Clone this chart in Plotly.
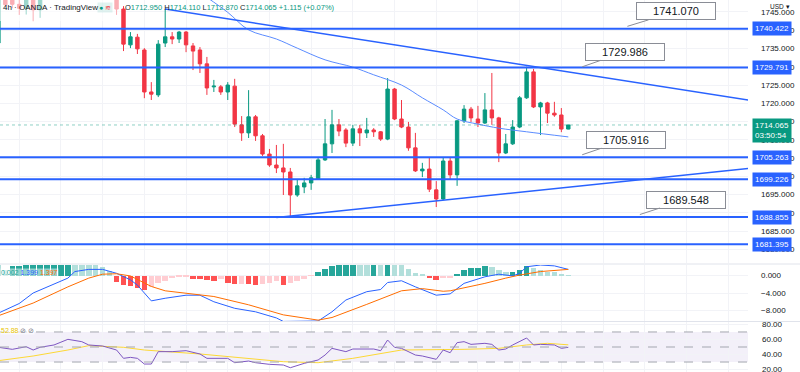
import plotly.graph_objects as go

PLOT_W = 748.0
PLOT_H = 372.0

# ---------------- data ----------------
idx = list(range(83))
opens = [1736.5, 1749.8, 1748.6, 1747.1, 1746.0, 1749.0, 1745.6, 1750.8, 1753.1, 1756.2,
         1754.3, 1759.1, 1758.0, 1760.6, 1755.8, 1753.0, 1751.0, 1750.0, 1745.8, 1736.0,
         1738.1, 1734.6, 1723.1, 1722.3, 1736.5, 1738.2, 1737.6, 1739.5, 1735.7, 1734.6,
         1730.8, 1724.5, 1724.5, 1723.1, 1724.7, 1714.1, 1711.9, 1716.3, 1711.1, 1706.1,
         1703.1, 1702.3, 1701.2, 1694.9, 1697.1, 1698.2, 1699.3, 1704.5, 1708.9, 1714.1,
         1712.7, 1709.1, 1713.0, 1711.9, 1712.7, 1712.2, 1710.2, 1723.9, 1715.7, 1713.5,
         1707.8, 1701.5, 1702.0, 1696.3, 1693.8, 1704.2, 1700.4, 1715.2, 1718.4, 1715.7,
         1714.6, 1718.2, 1716.0, 1706.4, 1708.9, 1713.5, 1721.5, 1728.6, 1719.0, 1720.1,
         1717.3, 1716.8, 1712.95]
highs = [1751.0, 1751.2, 1749.6, 1748.9, 1749.8, 1750.2, 1751.5, 1754.0, 1757.0, 1757.8,
         1760.0, 1762.0, 1761.5, 1761.2, 1757.6, 1754.6, 1752.8, 1751.4, 1746.6, 1739.5,
         1739.0, 1735.1, 1725.8, 1737.3, 1745.8, 1739.5, 1739.8, 1739.8, 1736.5, 1735.4,
         1732.7, 1726.4, 1725.0, 1725.8, 1726.7, 1716.5, 1723.6, 1716.8, 1711.6, 1707.5,
         1708.6, 1708.9, 1702.3, 1699.0, 1699.6, 1700.4, 1705.0, 1715.7, 1718.2, 1715.7,
         1713.2, 1714.1, 1714.1, 1716.0, 1713.2, 1712.4, 1726.9, 1724.2, 1720.9, 1714.9,
         1711.9, 1703.7, 1705.3, 1698.7, 1705.3, 1705.3, 1715.4, 1719.5, 1719.0, 1719.3,
         1722.8, 1728.3, 1716.3, 1711.6, 1715.4, 1722.0, 1730.0, 1729.4, 1720.4, 1720.4,
         1720.4, 1718.7, 1714.11]
lows = [1735.5, 1746.3, 1746.0, 1744.2, 1744.3, 1742.5, 1743.4, 1749.6, 1752.0, 1753.4,
        1753.8, 1757.2, 1756.4, 1755.0, 1752.1, 1750.2, 1749.0, 1744.2, 1734.3, 1735.1,
        1733.5, 1721.4, 1720.9, 1721.7, 1735.4, 1736.2, 1736.5, 1734.0, 1729.1, 1728.3,
        1722.3, 1723.1, 1722.3, 1720.9, 1713.5, 1709.7, 1710.5, 1709.7, 1705.6, 1702.6,
        1700.9, 1694.9, 1688.9, 1694.4, 1695.4, 1696.3, 1699.0, 1704.2, 1706.4, 1711.0,
        1708.0, 1708.3, 1708.3, 1710.5, 1710.8, 1709.7, 1709.9, 1715.4, 1713.2, 1707.0,
        1701.2, 1699.8, 1695.7, 1691.6, 1693.5, 1699.0, 1697.4, 1714.6, 1714.9, 1713.5,
        1714.3, 1714.1, 1703.9, 1706.1, 1708.6, 1713.2, 1721.2, 1718.7, 1711.3, 1714.6,
        1716.3, 1712.1, 1712.87]
closes = [1749.8, 1747.0, 1747.1, 1746.0, 1749.0, 1745.6, 1750.8, 1753.1, 1756.2, 1754.3,
          1759.1, 1758.0, 1760.6, 1755.8, 1753.0, 1751.0, 1750.0, 1745.8, 1736.2, 1738.2,
          1734.9, 1723.1, 1722.5, 1736.2, 1738.2, 1737.6, 1739.5, 1736.0, 1734.3, 1730.8,
          1724.2, 1724.7, 1723.1, 1725.0, 1714.3, 1711.9, 1716.3, 1711.1, 1706.1, 1703.1,
          1702.3, 1701.2, 1694.9, 1697.4, 1698.2, 1699.6, 1704.5, 1708.9, 1714.1, 1712.4,
          1709.1, 1713.0, 1711.9, 1712.7, 1712.2, 1710.2, 1723.9, 1715.7, 1713.5, 1707.8,
          1701.5, 1702.0, 1696.5, 1693.8, 1704.2, 1700.4, 1715.2, 1718.4, 1716.0, 1714.6,
          1718.2, 1716.0, 1706.4, 1708.9, 1713.5, 1721.5, 1728.6, 1719.0, 1720.1, 1717.3,
          1716.8, 1712.95, 1714.065]

ma_idx = [30, 33, 36, 40, 43, 47, 51, 54, 58, 61, 64, 66, 69, 72, 76, 82]
ma_val = [1749.0, 1744.9, 1740.1, 1737.6, 1735.1, 1731.9, 1729.9, 1727.8, 1725.0, 1721.5,
          1718.2, 1715.7, 1714.3, 1713.2, 1712.2, 1710.8]

hist = [2.4, 1.3, 2.1, 2.2, 2.3, 2.5, 2.7, 2.9, 3.0, 3.1, 3.2, 3.0, 2.8, 2.6, 2.3, 1.9, 1.0,
        -1.4, -2.2, -2.3, -2.9, -3.3, -2.6, -1.8, -1.2, -0.5, -0.35, -0.3, -0.7, -0.9, -1.1,
        -1.3, -0.9, -1.6, -1.9, -1.85, -1.95, -2.1, -2.0, -1.7, -1.3, -2.1, -1.7, -1.2, -0.7,
        -0.1, 0.8, 1.6, 2.2, 2.6, 2.8, 3.0, 2.8, 2.6, 2.9, 2.7, 3.0, 2.8, 2.5, 1.4, 0.65, 0.3,
        -0.5, -1.1, -0.6, -0.5, 0.4, 1.3, 1.7, 1.8, 2.1, 1.9, 1.2, 0.8, 0.85, 1.2, 2.1, 1.7,
        1.2, 0.9, 0.7, 0.3, 0.02]
macd_idx = [0, 3, 5, 7, 10, 11, 13, 15, 17, 19, 20, 22, 24, 27, 29, 31, 34, 37, 40, 41, 46,
            48, 50, 53, 55, 56, 58, 60, 63, 65, 67, 70, 72, 74, 75, 76, 78, 80, 82]
macd_val = [-8.6, -6.4, -4.0, -2.6, -0.6, 0.9, 1.4, 1.4, 0.5, -1.0, -2.2, -5.8, -5.2, -4.5,
            -4.5, -6.0, -7.5, -8.3, -9.7, -10.5, -10.4, -8.3, -5.6, -3.7, -3.2, -1.6, -1.2,
            -2.6, -4.5, -4.2, -1.8, -0.3, 0.3, -0.1, 0.5, 2.0, 2.4, 2.2, 1.399]
sig_idx = [0, 5, 10, 13, 15, 17, 19, 22, 24, 27, 31, 36, 41, 46, 48, 53, 58, 61, 64, 65, 70,
           73, 75, 78, 82]
sig_val = [-9.2, -6.3, -2.6, -0.6, 0.3, 0.4, -0.1, -2.5, -3.5, -4.1, -4.8, -6.7, -9.0, -10.2,
           -9.6, -6.6, -3.5, -3.0, -3.6, -3.5, -1.8, -0.6, 0.1, 0.9, 1.397]

rsi_idx = [0, 2, 4, 5, 6, 8, 10, 12, 13, 15, 17, 18, 19, 20, 21, 22, 23, 25, 27, 29, 30, 33,
           34, 36, 37, 39, 41, 42, 44, 46, 47, 48, 50, 51, 54, 55, 56, 57, 58, 60, 61, 63, 64,
           65, 66, 67, 68, 70, 71, 72, 73, 74, 76, 77, 78, 79, 80, 81, 82]
rsi_val = [49.6, 46.9, 50.4, 46.0, 49.6, 52.7, 60.2, 57.1, 52.7, 51.3, 46.0, 34.9, 36.2, 34.9,
           27.3, 27.3, 43.8, 43.8, 45.1, 40.7, 34.9, 34.9, 29.1, 31.3, 29.1, 26.9, 26.0, 22.4,
           28.2, 32.7, 39.3, 48.2, 43.8, 47.3, 47.3, 45.1, 59.3, 49.6, 48.2, 39.3, 38.0, 33.6,
           46.0, 42.4, 55.8, 57.1, 53.5, 54.9, 53.5, 46.0, 47.3, 52.7, 62.0, 52.7, 53.5, 52.7,
           52.7, 48.2, 49.6]
rsima_idx = [0, 5, 10, 13, 18, 21, 29, 34, 41, 46, 51, 58, 63, 67, 72, 76, 79, 82]
rsima_val = [31.8, 38.0, 46.0, 51.8, 49.6, 46.0, 40.7, 36.2, 30.4, 29.1, 34.9, 46.0, 46.0, 46.9,
             48.2, 52.7, 54.9, 52.88]

h_levels = [1740.422, 1729.791, 1705.263, 1699.226, 1688.855, 1681.395]
down_idx = [24, 107.9]
down_px = [1745.8, 1720.9]
up_idx = [40, 107.9]
up_px = [1688.74, 1702.18]
callout_idx = [90.5, 84.0, 84.0, 92.3]
callout_px = [1741.070, 1729.986, 1705.916, 1689.548]
last_price = 1714.065
countdown = "03:50:54"
ohlc = ["1712.950", "1714.110", "1712.870", "1714.065"]
change_txt = "+1.115 (+0.07%)"
macd_legend = ["0.002", "1.399", "1.397"]
rsi_legend = "52.88"
main_ticks = list(range(1680, 1750, 5))
macd_ticks = [0, -4, -8]
rsi_ticks = [20, 40, 60, 80]

# ---------------- styles ----------------
UP, DN = "#089981", "#f23645"
BLUE = "#2962ff"
GRID = "#f2f3f7"
FONT = "Liberation Sans"
X0 = 0.23
X1 = X0 + PLOT_W / 6.95


def px(x):
    return x / PLOT_W


def py(y):
    return 1 - y / PLOT_H


# histogram colours from growth
hcol = []
for k, v in enumerate(hist):
    prev = hist[k - 1] if k > 0 else v + 1
    if v >= 0:
        hcol.append("#26a69a" if v > prev else "#b2dfdb")
    else:
        hcol.append("#ff5252" if v < prev else "#ffcdd2")

fig = go.Figure()

fig.add_trace(go.Candlestick(
    x=idx, open=opens, high=highs, low=lows, close=closes,
    increasing=dict(line=dict(color=UP, width=1), fillcolor=UP),
    decreasing=dict(line=dict(color=DN, width=1), fillcolor=DN),
    whiskerwidth=0, xaxis="x", yaxis="y", showlegend=False, hoverinfo="skip"))

fig.add_trace(go.Scatter(x=ma_idx, y=ma_val, mode="lines", line=dict(color="#5b8cff", width=1, shape="spline"),
                         xaxis="x", yaxis="y", showlegend=False, hoverinfo="skip"))
fig.add_trace(go.Scatter(x=down_idx, y=down_px, mode="lines", line=dict(color=BLUE, width=1.5),
                         xaxis="x", yaxis="y", showlegend=False, hoverinfo="skip"))
fig.add_trace(go.Scatter(x=up_idx, y=up_px, mode="lines", line=dict(color=BLUE, width=1.5),
                         xaxis="x", yaxis="y", showlegend=False, hoverinfo="skip"))

fig.add_trace(go.Bar(x=idx, y=hist, marker=dict(color=hcol, line=dict(width=0)), width=0.8,
                     xaxis="x", yaxis="y2", showlegend=False, hoverinfo="skip"))
fig.add_trace(go.Scatter(x=macd_idx, y=macd_val, mode="lines", line=dict(color="#2962ff", width=1),
                         xaxis="x", yaxis="y2", showlegend=False, hoverinfo="skip"))
fig.add_trace(go.Scatter(x=sig_idx, y=sig_val, mode="lines", line=dict(color="#ff6d00", width=1),
                         xaxis="x", yaxis="y2", showlegend=False, hoverinfo="skip"))

fig.add_trace(go.Scatter(x=rsima_idx, y=rsima_val, mode="lines", line=dict(color="#fdd835", width=1),
                         xaxis="x", yaxis="y3", showlegend=False, hoverinfo="skip"))
fig.add_trace(go.Scatter(x=rsi_idx, y=rsi_val, mode="lines", line=dict(color="#7e57c2", width=1),
                         xaxis="x", yaxis="y3", showlegend=False, hoverinfo="skip"))

shapes = []
for lv in h_levels:
    shapes.append(dict(type="line", xref="paper", x0=0, x1=1, yref="y", y0=lv, y1=lv,
                       line=dict(color=BLUE, width=2)))
shapes.append(dict(type="line", xref="paper", x0=0, x1=1, yref="y", y0=last_price, y1=last_price,
                   line=dict(color="rgba(8,153,129,0.45)", width=1, dash="dot")))
# RSI band
shapes.append(dict(type="rect", xref="paper", x0=0, x1=1, yref="y3", y0=30, y1=70,
                   fillcolor="rgba(126,87,194,0.09)", line=dict(width=0), layer="below"))
for lv in (70, 50, 30):
    shapes.append(dict(type="line", xref="paper", x0=0, x1=1, yref="y3", y0=lv, y1=lv,
                       line=dict(color="#a3a6af", width=1, dash="dash")))
# pane separators
for yy in (264, 321.5):
    shapes.append(dict(type="line", xref="paper", x0=0, x1=800 / PLOT_W, yref="paper",
                       y0=py(yy), y1=py(yy), line=dict(color="#e0e3eb", width=1)))
# legend veil
shapes.append(dict(type="rect", xref="paper", x0=0, x1=px(121), yref="paper", y0=py(21), y1=1,
                   fillcolor="rgba(255,255,255,0.6)", line=dict(width=0), layer="above"))

axis_font = dict(family=FONT, size=8, color="#131722")
ann = []
# RSI scale labels
for t in rsi_ticks:
    ann.append(dict(xref="paper", x=px(760), xanchor="left", yref="y3", y=t, yanchor="middle",
                    text="%.2f" % t, showarrow=False, font=axis_font))
# right axis level labels
for lv in h_levels:
    ann.append(dict(xref="paper", x=px(752), xanchor="left", yref="y", y=lv, yanchor="middle",
                    text="%.3f" % lv, showarrow=False, bgcolor=BLUE, borderpad=2,
                    font=dict(family=FONT, size=8, color="white")))
ann.append(dict(xref="paper", x=px(752), xanchor="left", yref="y", y=last_price, yanchor="top",
                yshift=7, text="%.3f<br>%s" % (last_price, countdown), showarrow=False,
                bgcolor=UP, borderpad=2, align="left",
                font=dict(family=FONT, size=8, color="white")))
# price callouts
offs = [(49, -15), (43, -15), (44, -15), (46, -15)]
for (ci, cp), (ax, ay) in zip(zip(callout_idx, callout_px), offs):
    ann.append(dict(x=ci, y=cp, xref="x", yref="y", text="%.3f" % cp, showarrow=True,
                    arrowhead=0, arrowwidth=1, arrowcolor="#8a8d96", ax=ax, ay=ay,
                    width=76, height=14,
                    bgcolor="white", bordercolor="#8a8d96", borderwidth=1, borderpad=1,
                    font=dict(family=FONT, size=11, color="#131722")))
# header
ann.append(dict(xref="paper", yref="paper", x=px(1), y=py(1), xanchor="left", yanchor="top",
                text="4h · OANDA · TradingView", showarrow=False,
                font=dict(family=FONT, size=8, color="#131722")))
ann.append(dict(xref="paper", yref="paper", x=px(97), y=py(1.5), xanchor="left", yanchor="top",
                text="<span style='color:#089981'>●</span> <span style='color:#f23645'>≋</span>",
                showarrow=False, bgcolor="rgba(8,153,129,0.12)", borderpad=1,
                font=dict(family=FONT, size=7)))
lab = ["O", "H", "L", "C"]
htxt = " ".join("<span style='color:#131722'>%s</span>%s" % (a, b) for a, b in zip(lab, ohlc))
htxt += " " + change_txt
ann.append(dict(xref="paper", yref="paper", x=px(123), y=py(1), xanchor="left", yanchor="top",
                text=htxt, showarrow=False, font=dict(family=FONT, size=7.5, color=UP)))
ann.append(dict(xref="paper", yref="paper", x=px(768), y=py(1), xanchor="left", yanchor="top",
                text="USD ▾", showarrow=False, font=dict(family=FONT, size=6.5, color="#131722")))
# MACD legend
ann.append(dict(xref="paper", yref="paper", x=px(0), y=py(272), xanchor="left", yanchor="middle",
                text="<span style='color:#26a69a'>%s</span> <span style='color:#2962ff'>%s</span> "
                     "<span style='color:#ff6d00'>%s</span>" % tuple(macd_legend),
                showarrow=False, bgcolor="rgba(255,255,255,0.5)", borderpad=0,
                font=dict(family=FONT, size=7)))
ann.append(dict(xref="paper", yref="paper", x=px(0), y=py(330), xanchor="left", yanchor="middle",
                text="<span style='color:#e8c400'>%s</span> <span style='color:#787b86'>⊘ ⊘</span>" % rsi_legend,
                showarrow=False, bgcolor="rgba(255,255,255,0.6)", borderpad=0,
                font=dict(family=FONT, size=7)))

common_y = dict(side="right", showgrid=True, gridcolor=GRID, zeroline=False, ticks="",
                tickfont=axis_font, ticklabelstandoff=12, anchor="x", automargin=False,
                ticklabeloverflow="allow")
fig.update_layout(
    width=800, height=372, margin=dict(l=0, r=52, t=0, b=0),
    paper_bgcolor="white", plot_bgcolor="white", showlegend=False,
    bargap=0, font=dict(family=FONT),
    xaxis=dict(range=[X0, X1], showticklabels=False, tickvals=list(range(3, 110, 6)),
               showgrid=True, gridcolor=GRID, gridwidth=1, zeroline=False, showline=False,
               rangeslider=dict(visible=False), ticks=""),
    yaxis=dict(domain=[py(263), 1], range=[1676.28, 1748.28], tickvals=main_ticks,
               ticktext=["%.3f" % t for t in main_ticks], **common_y),
    yaxis2=dict(domain=[py(321), py(265)], range=[-10.4, 2.4], tickvals=macd_ticks,
                ticktext=[("%.3f" % t).replace("-", "−") for t in macd_ticks], **common_y),
    yaxis3=dict(domain=[0, py(322)], range=[16.7, 83.3], tickvals=rsi_ticks,
                showticklabels=False, **common_y),
    shapes=shapes, annotations=ann,
)

fig.write_html("out.html", config={"displayModeBar": False},
               post_script="document.body.style.margin='0';document.body.style.overflow='hidden';")
